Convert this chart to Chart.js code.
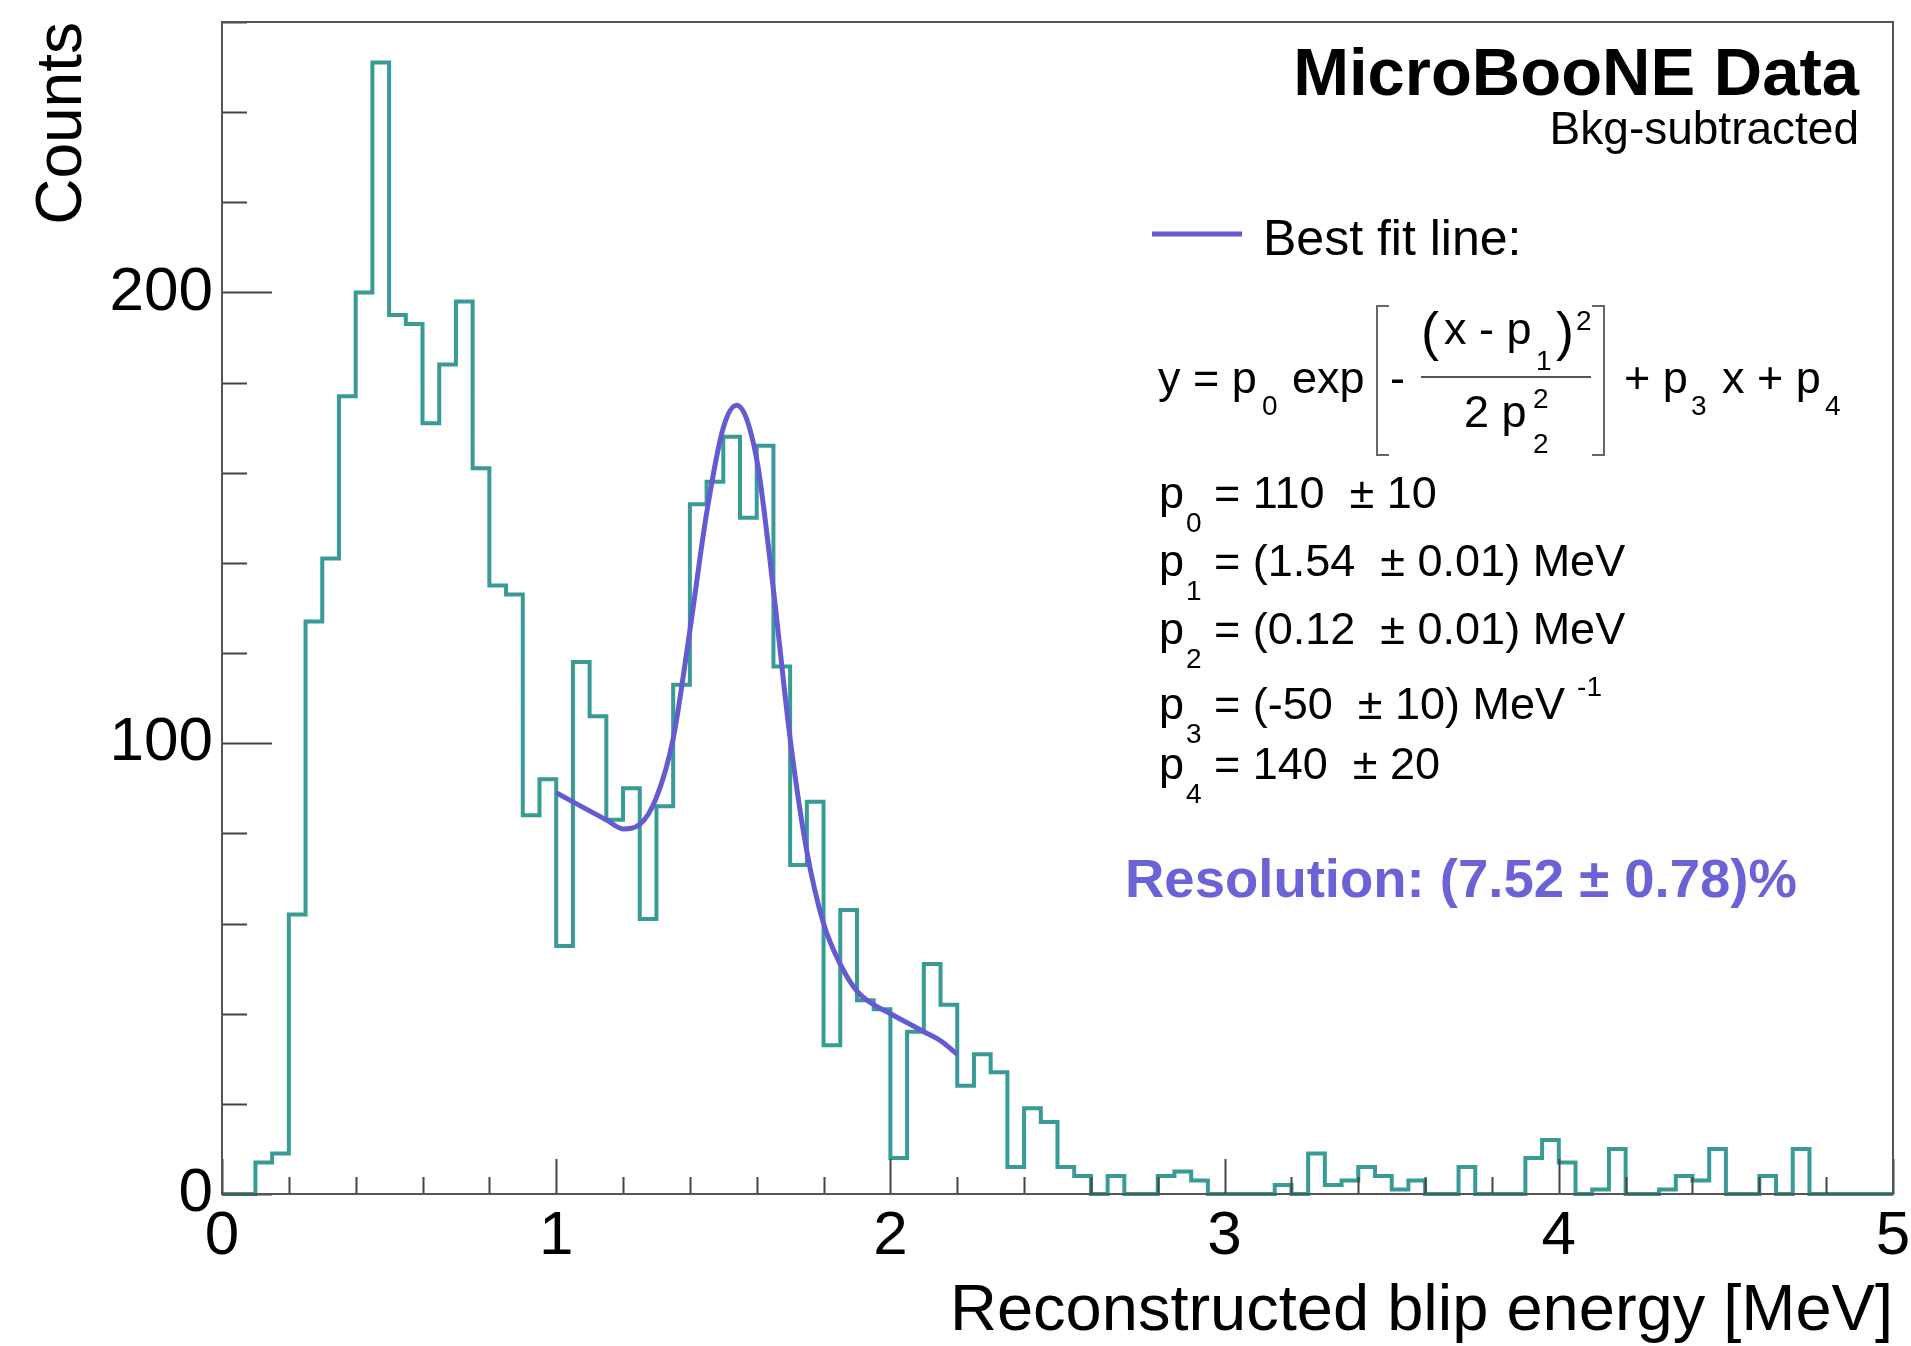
<!DOCTYPE html>
<html>
<head>
<meta charset="utf-8">
<title>Reconstructed blip energy</title>
<script src="https://cdn.jsdelivr.net/npm/chart.js@4.4.1/dist/chart.umd.min.js"></script>
<style>
  html, body { margin: 0; padding: 0; background: #fff; }
  canvas { display: block; }
</style>
</head>
<body>
<canvas id="blipChart" width="1911" height="1346"></canvas>
<script>
(function () {
  'use strict';

  /* Binning: 100 bins of 0.05 MeV from 0 to 5 MeV */
  var E_MIN = 0;
  var E_MAX = 5;
  var BIN_WIDTH = 0.05;

  /* Background-subtracted counts, one entry per bin (low edge first) */
  var COUNTS = [
      0,   0,   7,   9,  62, 127, 141, 177, 200, 251,
    195, 193, 171, 184, 198, 161, 135, 133,  84,  92,
     55, 118, 106,  83,  90,  61,  86, 113, 153, 158,
    168, 150, 166, 117,  73,  87,  33,  63,  43,  41,
      8,  36,  51,  42,  24,  31,  27,   6,  19,  16,
      6,   4,   0,   4,   0,   0,   4,   5,   3,   0,
      0,   0,   0,   2,   0,   9,   2,   3,   6,   4,
      1,   3,   0,   0,   6,   0,   0,   0,   8,  12,
      7,   0,   1,  10,   0,   0,   1,   4,   3,  10,
      0,   0,   4,   0,  10,   0,   0,   0,   0,   0
  ];

  /* Gaussian + linear fit, sampled along the fitted range 1.0 - 2.2 MeV */
  var FIT_E = [1.00, 1.05, 1.10, 1.15, 1.20, 1.25, 1.30, 1.35, 1.40, 1.45, 1.50, 1.54, 1.60,
               1.65, 1.70, 1.75, 1.80, 1.85, 1.90, 1.95, 2.00, 2.05, 2.10, 2.15, 2.20];
  var FIT_Y = [89, 87, 85, 83, 81, 82, 88, 101, 125, 151, 170, 175, 163,
               134, 101, 76, 60, 51, 45, 42, 40, 38, 36, 34, 31];

  var Y_MAX = 260;
  var Y_STEP = 100;     // labelled ticks
  var Y_MINOR = 20;
  var X_STEP = 1;
  var X_MINOR = 0.2;

  var FIT_PARAMS = [
    ['0', '= 110  \u00b1 10', ''],
    ['1', '= (1.54  \u00b1 0.01) MeV', ''],
    ['2', '= (0.12  \u00b1 0.01) MeV', ''],
    ['3', '= (-50  \u00b1 10) MeV', '-1'],
    ['4', '= 140  \u00b1 20', '']
  ];
  var RESOLUTION = 'Resolution: (7.52 \u00b1 0.78)%';

  var FONT = "'Liberation Sans', Arial, Helvetica, sans-serif";
  var HIST_COLOR = '#389b96';
  var FIT_COLOR = '#645ad2';
  var RES_COLOR = '#6a62d5';
  var AXIS_COLOR = '#444';

  Chart.defaults.font.family = FONT;
  Chart.defaults.color = '#000';

  var histPoints = COUNTS.map(function (c, i) {
    return { x: E_MIN + i * BIN_WIDTH, y: c };
  });
  histPoints.push({ x: E_MAX, y: COUNTS[COUNTS.length - 1] });

  var fitPoints = FIT_E.map(function (e, i) { return { x: e, y: FIT_Y[i] }; });

  /* ROOT-style frame with tick marks pointing into the plot */
  var frameAndTicks = {
    id: 'frameAndTicks',
    afterDatasetsDraw: function (chart) {
      var ctx = chart.ctx;
      var a = chart.chartArea;
      var xs = chart.scales.x;
      var ys = chart.scales.y;
      ctx.save();
      ctx.strokeStyle = AXIS_COLOR;
      ctx.lineWidth = 2;
      ctx.beginPath();
      var k, v, p, len;
      for (k = 0; k * Y_MINOR <= Y_MAX; k++) {
        v = k * Y_MINOR;
        p = Math.round(ys.getPixelForValue(v)) + 0.5;
        len = v % Y_STEP === 0 ? 50 : 25;
        ctx.moveTo(a.left, p);
        ctx.lineTo(a.left + len, p);
      }
      var nx = Math.round((E_MAX - E_MIN) / X_MINOR);
      for (k = 0; k <= nx; k++) {
        v = E_MIN + k * X_MINOR;
        p = Math.round(xs.getPixelForValue(v)) + 0.5;
        len = k % Math.round(X_STEP / X_MINOR) === 0 ? 35 : 17;
        ctx.moveTo(p, a.bottom);
        ctx.lineTo(p, a.bottom - len);
      }
      ctx.stroke();
      ctx.strokeStyle = '#555';
      ctx.strokeRect(a.left, a.top, a.right - a.left, a.bottom - a.top);
      ctx.restore();
    }
  };

  function text(ctx, str, x, y, size, opts) {
    opts = opts || {};
    ctx.font = (opts.bold ? 'bold ' : '') + size + 'px ' + FONT;
    ctx.fillStyle = opts.color || '#000';
    ctx.textAlign = opts.align || 'left';
    ctx.textBaseline = 'alphabetic';
    ctx.fillText(str, x, y);
    return ctx.measureText(str).width;
  }

  function bracket(ctx, x, top, bottom, dir) {
    ctx.beginPath();
    ctx.moveTo(x + 12 * dir, top);
    ctx.lineTo(x, top);
    ctx.lineTo(x, bottom);
    ctx.lineTo(x + 12 * dir, bottom);
    ctx.stroke();
  }

  /* Experiment label, legend entry, fit function and parameters */
  var annotations = {
    id: 'annotations',
    afterDraw: function (chart) {
      var ctx = chart.ctx;
      ctx.save();

      text(ctx, 'MicroBooNE Data', 1859, 95, 67, { bold: true, align: 'right' });
      text(ctx, 'Bkg-subtracted', 1859, 144, 46, { align: 'right' });

      ctx.strokeStyle = FIT_COLOR;
      ctx.lineWidth = 5;
      ctx.beginPath();
      ctx.moveTo(1152, 234);
      ctx.lineTo(1242, 234);
      ctx.stroke();
      text(ctx, 'Best fit line:', 1263, 255, 50);

      // y = p0 exp[-(x - p1)^2 / (2 p2^2)] + p3 x + p4
      var F = 45, S = 28;
      text(ctx, 'y = p', 1158, 393, F);
      text(ctx, '0', 1262, 415, S);
      text(ctx, 'exp', 1292, 393, F);
      ctx.strokeStyle = '#666';
      ctx.lineWidth = 2;
      bracket(ctx, 1377, 306, 455, 1);
      bracket(ctx, 1604, 306, 455, -1);
      text(ctx, '-', 1390, 393, F);
      text(ctx, '(', 1421, 350, 54);
      text(ctx, 'x - p', 1444, 344, F);
      text(ctx, '1', 1536, 370, S);
      text(ctx, ')', 1556, 350, 54);
      text(ctx, '2', 1576, 330, S);
      ctx.strokeStyle = '#555';
      ctx.beginPath();
      ctx.moveTo(1421, 377);
      ctx.lineTo(1591, 377);
      ctx.stroke();
      text(ctx, '2 p', 1464, 427, F);
      text(ctx, '2', 1533, 408, S);
      text(ctx, '2', 1533, 453, S);
      text(ctx, '+ p', 1624, 393, F);
      text(ctx, '3', 1691, 415, S);
      text(ctx, 'x + p', 1722, 393, F);
      text(ctx, '4', 1825, 415, S);

      var baselines = [508, 576, 644, 719, 779];
      FIT_PARAMS.forEach(function (row, i) {
        var y = baselines[i];
        text(ctx, 'p', 1159, y, F);
        text(ctx, row[0], 1186, y + 24, S);
        var w = text(ctx, row[1], 1214, y, F);
        if (row[2]) text(ctx, row[2], 1214 + w + 12, y - 23, S);
      });

      text(ctx, RESOLUTION, 1125, 897, 54.5, { bold: true, color: RES_COLOR });
      ctx.restore();
    }
  };

  var canvas = document.getElementById('blipChart');
  new Chart(canvas.getContext('2d'), {
    type: 'line',
    data: {
      datasets: [
        {
          label: 'Best fit line',
          data: fitPoints,
          borderColor: FIT_COLOR,
          borderWidth: 5,
          pointRadius: 0,
          fill: false,
          cubicInterpolationMode: 'monotone',
          order: 0
        },
        {
          label: 'MicroBooNE Data',
          data: histPoints,
          stepped: true,
          borderColor: HIST_COLOR,
          borderWidth: 4,
          borderJoinStyle: 'miter',
          pointRadius: 0,
          fill: false,
          clip: 4,
          order: 1
        }
      ]
    },
    options: {
      responsive: false,
      animation: false,
      events: [],
      layout: { padding: { top: 22, right: 18, left: 0, bottom: 0 } },
      plugins: { legend: { display: false }, tooltip: { enabled: false } },
      scales: {
        x: {
          type: 'linear',
          min: E_MIN,
          max: E_MAX,
          grid: { display: false, drawTicks: false },
          border: { display: false },
          ticks: {
            stepSize: X_STEP,
            autoSkip: false,
            maxRotation: 0,
            includeBounds: false,
            padding: 12,
            font: { size: 62, lineHeight: 1 }
          },
          title: {
            display: true,
            text: 'Reconstructed blip energy [MeV]',
            align: 'end',
            font: { size: 65, lineHeight: 1 },
            padding: { top: 0, bottom: 1 }
          },
          afterFit: function (s) {
            s.height = 152;
            s.paddingLeft = 0;
            s.paddingRight = 0;
          }
        },
        y: {
          type: 'linear',
          min: 0,
          max: Y_MAX,
          grid: { display: false, drawTicks: false },
          border: { display: false },
          ticks: {
            stepSize: Y_STEP,
            includeBounds: false,
            padding: 9,
            font: { size: 62, lineHeight: 1 }
          },
          title: {
            display: true,
            text: 'Counts',
            align: 'end',
            font: { size: 64, lineHeight: 1 },
            padding: { top: 31, bottom: 0 }
          },
          afterFit: function (s) {
            s.width = 222;
            s.paddingTop = 0;
            s.paddingBottom = 0;
          }
        }
      }
    },
    plugins: [frameAndTicks, annotations]
  });
})();
</script>
</body>
</html>
